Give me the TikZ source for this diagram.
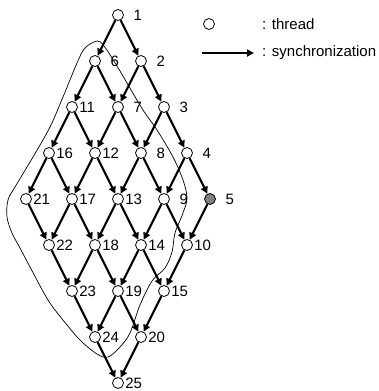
\documentclass[tikz,border=0pt]{standalone}
\usepackage{fontspec}
\setmainfont{Liberation Sans}
\usetikzlibrary{
  arrows.meta
}

\begin{document}
\begin{tikzpicture}[x=1pt, y=-1pt,
    thread/.style = {circle, draw, line width=0.8pt, minimum size=11pt,
      inner sep=0pt},
    num/.style = {inner sep=0.3pt, label distance=1pt, yshift=-0.3pt,
      font=\fontsize{15}{15}\selectfont},
    sync/.style = {line width=2.2pt, -{Triangle[length=7pt,width=7pt]}},
    key/.style = {anchor=west, inner sep=0pt,
      font=\fontsize{15}{15}\selectfont}]
  \useasboundingbox (0,0) rectangle (378,391);
  \foreach \a in {0,...,4}
    \foreach \b in {0,...,4} {
      \pgfmathtruncatemacro\k{5*\a+\b+1}
      \ifnum\k=5 \def\shade{gray}\else\def\shade{white}\fi
      \node[thread, fill=\shade,
        label={[num]east:{\ifnum\k<10 \hphantom{0}\fi\k}}]
        (t\k) at ({118+23*(\b-\a)}, {15+46*(\a+\b)}) {};
    }
  \foreach \a in {0,...,4}
    \foreach \b in {0,...,4} {
      \pgfmathtruncatemacro\k{5*\a+\b+1}
      \pgfmathtruncatemacro\down{\k+5}
      \pgfmathtruncatemacro\side{\k+1}
      \ifnum\a<4 \draw[sync] (t\k) -- (t\down); \fi
      \ifnum\b<4 \draw[sync] (t\k) -- (t\side); \fi
    }
  \draw[line width=0.7pt] plot[smooth cycle, tension=0.55] coordinates {
    (97,41) (85,48) (77,63) (63,97) (50,127) (33,157) (15,187) (8,200)
    (7,217) (12,233) (20,248) (30,267) (48,300) (63,320) (80,340)
    (97,354) (108,357) (120,347) (130,333) (140,305) (152,281) (165,268)
    (172,252) (175,233) (183,213) (187,198) (183,180) (173,157)
    (157,130) (143,110) (127,83) (117,66) (104,46)};
  \node[thread] (tkey) at (209,24) {};
  \node[key] at (262,24) {: thread};
  \coordinate (from) at (202,53);
  \coordinate (to) at (254,53);
  \draw[sync] (from) -- (to);
  \node[key] at (262,53) {: synchronization};
\end{tikzpicture}
\end{document}
